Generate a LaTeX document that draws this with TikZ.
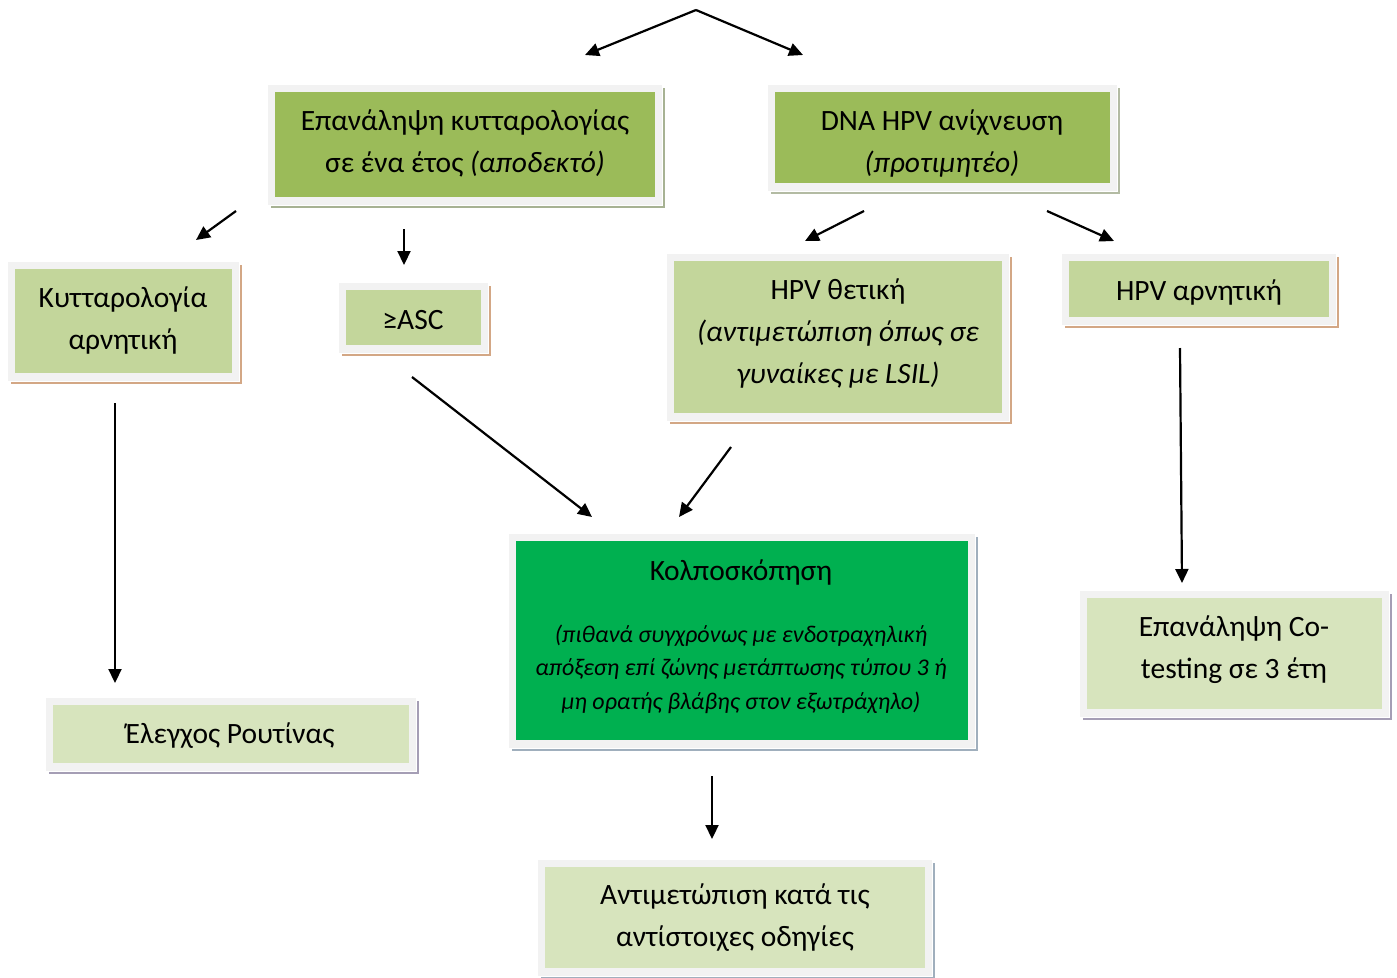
\documentclass[tikz,border=0pt]{standalone}
\usepackage{fontspec}
\setmainfont{Carlito}
\usetikzlibrary{arrows.meta}

\definecolor{framegray}{HTML}{F2F2F2}
\definecolor{olivefill}{HTML}{9BBB59}
\definecolor{lightolive}{HTML}{C3D69B}
\definecolor{paleolive}{HTML}{D7E4BD}
\definecolor{brightgreen}{HTML}{00B050}
\definecolor{shOlive}{HTML}{A7B293}
\definecolor{shOliveLight}{HTML}{B3BBA3}
\definecolor{shTan}{HTML}{D3A785}
\definecolor{shBlue}{HTML}{A0AFBD}
\definecolor{shLilac}{HTML}{A59EB5}

\tikzset{
  flowarrow/.style={line width=2.2pt, -{Triangle[length=14pt,width=13pt]}},
  boxtext/.style={align=center, inner sep=0pt, font=\fontsize{29.5}{42}\selectfont},
  smalltext/.style={align=center, inner sep=0pt, font=\fontsize{24}{33.5}\selectfont\itshape},
}

% card: name, inner x1, y1, x2, y2, fill colour, shadow colour
\newcommand\flowcard[7]{%
  \fill[#7] (#2-4,#3-4) rectangle (#4+10,#5+11);
  \fill[white] (#2-7.5,#3-7.5) rectangle (#4+8,#5+8.5);
  \fill[framegray] (#2-7,#3-7) rectangle (#4+7,#5+7.5);
  \node[inner sep=0pt, fill=#6, minimum width={#4-#2}, minimum height={#5-#3}]
    (#1) at ({(#2+#4)/2},{(#3+#5)/2}) {};
}

\begin{document}
\begin{tikzpicture}[x=1pt,y=-1pt]
\useasboundingbox (0,0) rectangle (1397,977);

% boxes
\flowcard{rep}{275}{92}{655}{197}{olivefill}{shOlive}
\flowcard{dna}{775}{92}{1110}{183}{olivefill}{shOliveLight}
\flowcard{neg}{15}{269}{232}{373}{lightolive}{shTan}
\flowcard{asc}{346}{290}{481}{345}{lightolive}{shTan}
\flowcard{pos}{674}{261}{1002}{413}{lightolive}{shTan}
\flowcard{hpvneg}{1069}{261}{1329}{317}{lightolive}{shTan}
\flowcard{colpo}{516}{541}{968}{740}{brightgreen}{shBlue}
\flowcard{routine}{53}{705}{409}{763}{paleolive}{shLilac}
\flowcard{cotest}{1087}{598}{1382}{709}{paleolive}{shLilac}
\flowcard{treat}{545}{867}{925}{968}{paleolive}{shBlue}

% texts
\node[boxtext] (repT) at (465,143) {Επανάληψη κυτταρολογίας\\σε ένα έτος \textit{(αποδεκτό)}};
\node[boxtext] (dnaT) at (942,143) {DNA HPV ανίχνευση\\\textit{(προτιμητέο)}};
\node[boxtext] (negT) at (123,320) {Κυτταρολογία\\αρνητική};
\node[boxtext] (ascT) at (413,320) {≥ASC};
\node[boxtext] (posT) at (838,333) {HPV θετική\\\textit{(αντιμετώπιση όπως σε}\\\textit{γυναίκες με LSIL)}};
\node[boxtext] (hpvnegT) at (1199,292) {HPV αρνητική};
\node[boxtext] (colpoT) at (741,572) {Κολποσκόπηση};
\node[smalltext] (colpoS) at (741,669) {(πιθανά συγχρόνως με ενδοτραχηλική\\απόξεση επί ζώνης μετάπτωσης τύπου 3 ή\\μη ορατής βλάβης στον εξωτράχηλο)};
\node[boxtext] (routineT) at (230,736) {Έλεγχος Ρουτίνας};
\node[boxtext] (cotestT) at (1234,650) {Επανάληψη Co-\\testing σε 3 έτη};
\node[boxtext] (treatT) at (735,918) {Αντιμετώπιση κατά τις\\αντίστοιχες οδηγίες};

% arrow end points
\coordinate (top) at (696,10);
\coordinate (topL) at (585,55);
\coordinate (topR) at (803,55);
\coordinate (a1s) at (236,211);
\coordinate (a1e) at (196,240);
\coordinate (a2s) at (404,229);
\coordinate (a2e) at (404,265);
\coordinate (a3s) at (864,211);
\coordinate (a3e) at (805,241);
\coordinate (a4s) at (1047,211);
\coordinate (a4e) at (1114,241);
\coordinate (a5s) at (115,403);
\coordinate (a5e) at (115,683);
\coordinate (a6s) at (412,377);
\coordinate (a6e) at (592,517);
\coordinate (a7s) at (731,447);
\coordinate (a7e) at (679,517);
\coordinate (a8s) at (1180,348);
\coordinate (a8e) at (1182,583);
\coordinate (a9s) at (712,776);
\coordinate (a9e) at (712,839);

% connectors
\draw[flowarrow] (top) -- (topL);
\draw[flowarrow] (top) -- (topR);
\draw[flowarrow] (a1s) -- (a1e);
\draw[flowarrow] (a2s) -- (a2e);
\draw[flowarrow] (a3s) -- (a3e);
\draw[flowarrow] (a4s) -- (a4e);
\draw[flowarrow] (a5s) -- (a5e);
\draw[flowarrow] (a6s) -- (a6e);
\draw[flowarrow] (a7s) -- (a7e);
\draw[flowarrow] (a8s) -- (a8e);
\draw[flowarrow] (a9s) -- (a9e);
\end{tikzpicture}
\end{document}
